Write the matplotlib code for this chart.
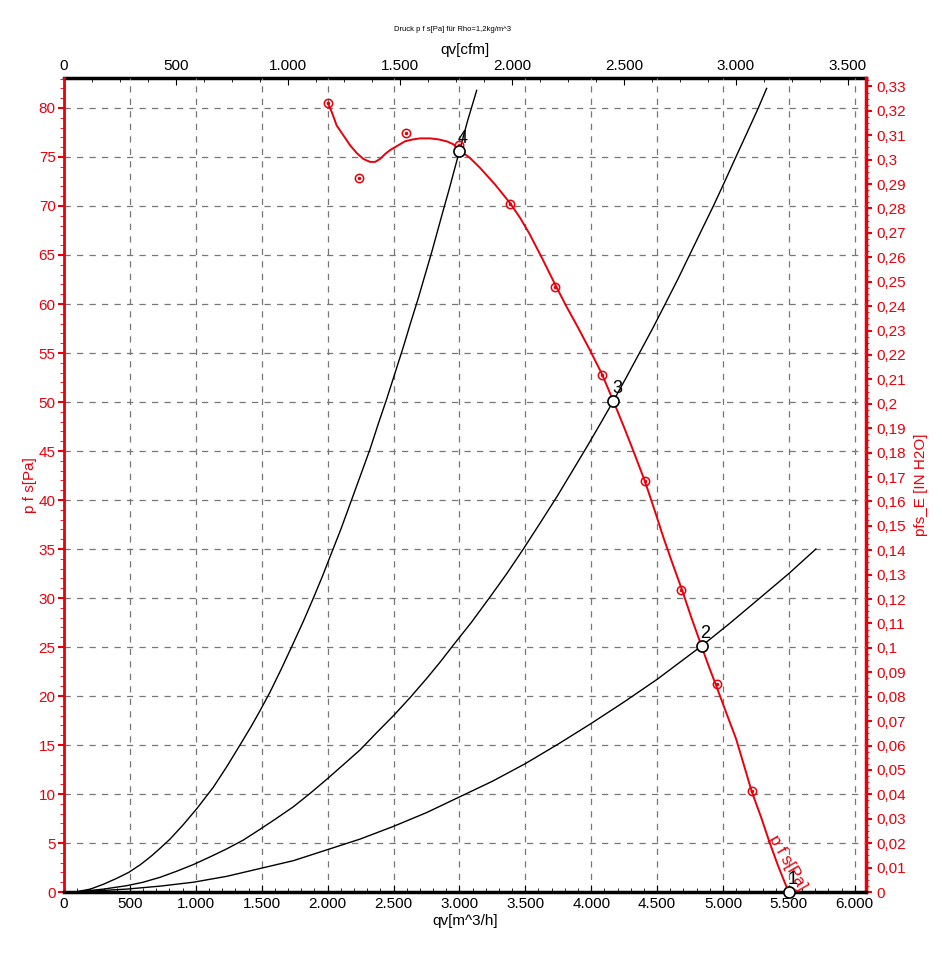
import numpy as np
import matplotlib.pyplot as plt
from matplotlib.ticker import MultipleLocator, FixedLocator, FuncFormatter

plt.rcParams['font.family'] = ['Liberation Sans Narrow', 'Liberation Sans', 'DejaVu Sans']

# fan curve p f s
fan_q = [2001, 2031, 2069, 2120, 2170, 2221, 2271, 2322, 2360, 2398, 2436, 2473,
         2524, 2587, 2650, 2701, 2777, 2840, 2903, 2954, 3000, 3080, 3156, 3270,
         3384, 3460, 3530, 3630, 3726, 3810, 3900, 3990, 4080, 4168, 4250, 4320,
         4408, 4480, 4550, 4620, 4690, 4760, 4837, 4890, 4950, 5030, 5100, 5160,
         5217, 5290, 5350, 5420, 5498]
fan_p = [80.5, 79.6, 78.2, 77.2, 76.2, 75.4, 74.8, 74.5, 74.5, 74.8, 75.3, 75.7,
         76.1, 76.6, 76.8, 76.9, 76.9, 76.8, 76.6, 76.3, 75.7, 74.9, 73.9, 72.2,
         70.3, 68.8, 67.2, 64.6, 62.0, 59.8, 57.6, 55.3, 52.9, 50.1, 47.4, 45.0,
         41.9, 39.0, 36.1, 33.4, 30.8, 28.0, 25.1, 23.1, 21.0, 18.1, 15.6, 12.9,
         10.3, 7.6, 5.2, 2.6, 0.0]

# measured points
meas_q = [2001, 2240, 2595, 3000, 3384, 3726, 4079, 4408, 4684, 4951, 5217]
meas_p = [80.5, 72.9, 77.4, 76.2, 70.2, 61.7, 52.8, 41.9, 30.8, 21.2, 10.3]

# system curves
sys4_q = [83, 200, 300, 400, 490, 580, 665, 740, 804, 900, 1007, 1133, 1235,
          1335, 1420, 1487, 1563, 1650, 1740, 1815, 1892, 1960, 2018, 2100,
          2195, 2260, 2322, 2385, 2448, 2510, 2574, 2630, 2688, 2740, 2790,
          2835, 2878, 2920, 2954, 3000, 3060, 3131]
sys4_p = [0.0, 0.3, 0.8, 1.4, 2.0, 2.8, 3.7, 4.6, 5.4, 6.8, 8.5, 10.7, 12.8,
          15.0, 16.9, 18.5, 20.4, 22.8, 25.4, 27.6, 30.0, 32.2, 34.2, 37.0,
          40.5, 42.9, 45.2, 47.8, 50.3, 52.9, 55.6, 58.1, 60.6, 63.0, 65.3,
          67.5, 69.6, 71.6, 73.3, 75.6, 78.6, 81.8]

sys3_q = [83, 300, 476, 600, 728, 850, 981, 1110, 1234, 1360, 1487, 1610, 1740,
          1870, 1993, 2120, 2246, 2375, 2500, 2630, 2752, 2850, 2954, 3090,
          3232, 3360, 3485, 3610, 3738, 3850, 3966, 4070, 4168, 4270, 4370,
          4470, 4573, 4660, 4750, 4840, 4927, 5010, 5091, 5180, 5268, 5331]
sys3_p = [0.0, 0.3, 0.65, 1.0, 1.5, 2.1, 2.8, 3.6, 4.4, 5.3, 6.4, 7.5, 8.7,
          10.1, 11.5, 13.0, 14.5, 16.3, 18.0, 19.9, 21.8, 23.4, 25.2, 27.5,
          30.1, 32.5, 35.0, 37.6, 40.3, 42.8, 45.4, 47.8, 50.1, 52.6, 55.1,
          57.6, 60.3, 62.6, 65.1, 67.6, 70.0, 72.4, 74.8, 77.4, 80.0, 82.0]

sys2_q = [83, 476, 728, 981, 1234, 1487, 1740, 1993, 2246, 2500, 2750, 3000,
          3250, 3500, 3750, 4000, 4250, 4500, 4837, 5050, 5280, 5500, 5705]
sys2_p = [0.0, 0.3, 0.6, 1.0, 1.6, 2.4, 3.2, 4.3, 5.4, 6.7, 8.1, 9.7,
          11.3, 13.1, 15.1, 17.2, 19.4, 21.7, 25.1, 27.4, 30.0, 32.5, 35.0]

# operating points
op_q = [5498, 4837, 4168, 3000]
op_p = [0.0, 25.1, 50.1, 75.6]
op_lbl = ['1', '2', '3', '4']

cfm_ticks = [0, 500, 1000, 1500, 2000, 2500, 3000, 3500]

RED = '#e8000b'
CFM = 1.699
INH2O = 249.09


def thousands(v, pos):
    return f"{int(round(v)):,}".replace(',', '.')


def comma(v, pos):
    s = f"{v:.2f}".rstrip('0').rstrip('.')
    return s.replace('.', ',')


fig = plt.figure(figsize=(9.42, 9.63), dpi=100)
ax = fig.add_axes([0.068, 0.0737, 0.8513, 0.8453])

ax.plot(sys4_q, sys4_p, color='black', lw=1)
ax.plot(sys3_q, sys3_p, color='black', lw=1)
ax.plot(sys2_q, sys2_p, color='black', lw=1)
ax.plot(fan_q, fan_p, color=RED, lw=1.4)
ax.plot(meas_q, meas_p, 'o', ms=6, mfc='none', mec=RED, mew=1.1)
ax.plot(meas_q, meas_p, 'o', ms=1.5, color=RED)
ax.plot(op_q, op_p, 'o', ms=8, mfc='white', mec='black', mew=1.2, zorder=5, clip_on=False)
for q, p, t in zip(op_q, op_p, op_lbl):
    ax.annotate(t, (q, p), xytext=(-1, 3), textcoords='offset points',
                fontsize=13, ha='left', va='bottom', zorder=6)

ax.text(5493, 3.0, 'p f s[Pa]', color=RED, fontsize=12, rotation=-60,
        ha='center', va='center')

ax.set_xlim(0, 6085)
ax.set_ylim(0, 83.06)
ax.xaxis.set_major_locator(MultipleLocator(500))
ax.xaxis.set_minor_locator(MultipleLocator(100))
ax.yaxis.set_major_locator(MultipleLocator(5))
ax.yaxis.set_minor_locator(MultipleLocator(1))
ax.xaxis.set_major_formatter(FuncFormatter(thousands))
ax.grid(True, which='major', color='#777777', ls=(0, (5, 5)), lw=0.9)

ax.tick_params(axis='x', which='both', direction='in', labelsize=11)
ax.tick_params(axis='x', which='major', length=5)
ax.tick_params(axis='x', which='minor', length=3)
ax.tick_params(axis='y', which='both', direction='out', colors=RED, labelsize=11, pad=2)
ax.tick_params(axis='y', which='major', length=4, width=1.5)
ax.tick_params(axis='y', which='minor', length=3)

ax.spines['bottom'].set_linewidth(2.5)
ax.spines['left'].set_color(RED)
ax.spines['left'].set_linewidth(2)
ax.spines['top'].set_visible(False)
ax.spines['right'].set_visible(False)

ax.set_xlabel('qv[m^3/h]', fontsize=11, labelpad=2)
ax.set_ylabel('p f s[Pa]', fontsize=11, color=RED, labelpad=1)

top = ax.secondary_xaxis('top', functions=(lambda q: q / CFM, lambda c: c * CFM))
top.xaxis.set_major_locator(FixedLocator(cfm_ticks))
top.xaxis.set_minor_locator(FixedLocator(np.arange(0, 3576, 125)))
top.xaxis.set_major_formatter(FuncFormatter(thousands))
top.tick_params(which='both', direction='in', labelsize=11)
top.tick_params(which='major', length=5)
top.tick_params(which='minor', length=3)
top.spines['top'].set_linewidth(2.5)
top.set_xlabel('qv[cfm]', fontsize=11, labelpad=4)

right = ax.secondary_yaxis('right', functions=(lambda p: p / INH2O, lambda h: h * INH2O))
right.yaxis.set_major_locator(MultipleLocator(0.01))
right.yaxis.set_minor_locator(MultipleLocator(0.0025))
right.yaxis.set_major_formatter(FuncFormatter(comma))
right.tick_params(which='both', direction='out', colors=RED, labelsize=11)
right.tick_params(which='major', length=4, width=1.5)
right.tick_params(which='minor', length=2.5)
right.spines['right'].set_color(RED)
right.spines['right'].set_linewidth(2.5)
right.set_ylabel('pfs_E [IN H2O]', fontsize=11, color=RED, labelpad=6)

fig.text(0.48, 0.969, 'Druck p f s[Pa] für Rho=1,2kg/m^3', fontsize=5.5, ha='center', va='center')

fig.savefig('out.png', dpi=100)
